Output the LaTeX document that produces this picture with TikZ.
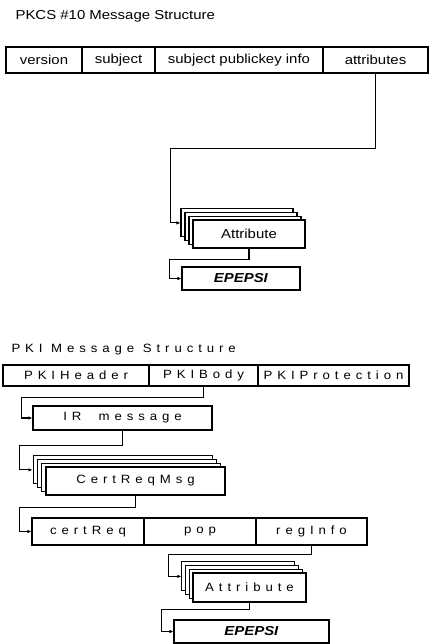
\documentclass[tikz,border=0pt]{standalone}
\usepackage{fontspec}
\setmainfont{Liberation Sans}
\newfontfamily\widefont[FakeStretch=1.15]{Liberation Sans}
\newfontfamily\spacedfont[FakeStretch=1.1,LetterSpace=41]{Liberation Sans}
\usetikzlibrary{arrows.meta, positioning}

\begin{document}
\begin{tikzpicture}[x=1pt, y=-1pt,
    cell/.style={draw, line width=1.1pt, fill=white, inner sep=0pt,
      font=\widefont\fontsize{13}{15}\selectfont, align=center},
    pcell/.style={cell, font=\spacedfont\fontsize{12}{14}\selectfont},
    conn/.style={line width=1.1pt, -{Latex[length=4pt,width=3.5pt]}},
]
\useasboundingbox (0,0) rectangle (432,644);

% PKCS #10 part
\node[anchor=base west, font=\widefont\fontsize{13}{15}\selectfont]
  (titleA) at (12,20) {PKCS \#10 Message Structure};

\foreach \nm/\cx/\w/\txt in {
  version/44/76/version, subj/118.5/73/subject,
  spki/239/168/subject publickey info, attrs/375.5/105/attributes} {
  \node[cell, minimum width=\w, minimum height=26] (\nm) at (\cx,60) {\txt};
}

% Attribute stack
\foreach \k in {3,2,1} {
  \node[cell, minimum width=112, minimum height=28]
    (attrA\k) at (249-4*\k, 234-3.7*\k) {};
}
\node[cell, minimum width=112, minimum height=28] (attrA) at (249,234) {Attribute};
\node[cell, minimum width=118, minimum height=23]
  (epA) at (241,278.5) {\textbf{\textit{EPEPSI}}};

\draw[conn] (attrs.south) -- ++(0,75) -| ([xshift=-10pt]attrA3.west) -- (attrA3.west);
\draw[conn] (attrA.south) -- ++(0,11) -| ([xshift=-12pt]epA.west) -- (epA.west);

% PKI message part
\node[anchor=base west, font=\spacedfont\fontsize{12}{14}\selectfont]
  (titleB) at (8,352) {PKI Message Structure};

\foreach \nm/\cx/\w/\txt in {
  header/76/146/PKIHeader, body/203.5/109/PKIBody,
  protect/333.5/151/PKIProtection} {
  \node[pcell, minimum width=\w, minimum height=21] (\nm) at (\cx,375.5) {\txt};
}

\node[pcell, minimum width=179, minimum height=24] (irmsg) at (122.5,418) {IR\ \ message};

% CertReqMsg stack
\foreach \k in {3,2,1} {
  \node[pcell, minimum width=179, minimum height=28]
    (crm\k) at (135.5-4.3*\k, 481-3.7*\k) {};
}
\node[pcell, minimum width=179, minimum height=28] (crm) at (135.5,481) {CertReqMsg};

\foreach \nm/\cx/\w/\txt in {
  certreq/88/112/certReq, pop/200/112/pop, reginfo/311.5/111/regInfo} {
  \node[pcell, minimum width=\w, minimum height=27] (\nm) at (\cx,531.5) {\txt};
}

% Attribute stack
\foreach \k in {3,2,1} {
  \node[pcell, minimum width=113, minimum height=29]
    (attrB\k) at (249.5-3.7*\k, 587.5-3.7*\k) {};
}
\node[pcell, minimum width=113, minimum height=29] (attrB) at (249.5,587.5) {Attribute};
\node[cell, minimum width=155, minimum height=23]
  (epB) at (251.5,631.5) {\textbf{\textit{EPEPSI}}};

\draw[conn] (body.south) -- ++(0,11) -| ([xshift=-11pt]irmsg.west) -- (irmsg.west);
\draw[conn] (irmsg.south) -- ++(0,15) -| ([xshift=-13pt]crm3.west) -- (crm3.west);
\draw[conn] (crm.south) -- ++(0,12) -| ([xshift=-12pt]certreq.west) -- (certreq.west);
\draw[conn] (reginfo.south) -- ++(0,9) -| ([xshift=-13pt]attrB3.west) -- (attrB3.west);
\draw[conn] (attrB.south) -- ++(0,7) -| ([xshift=-12pt]epB.west) -- (epB.west);

\end{tikzpicture}
\end{document}
